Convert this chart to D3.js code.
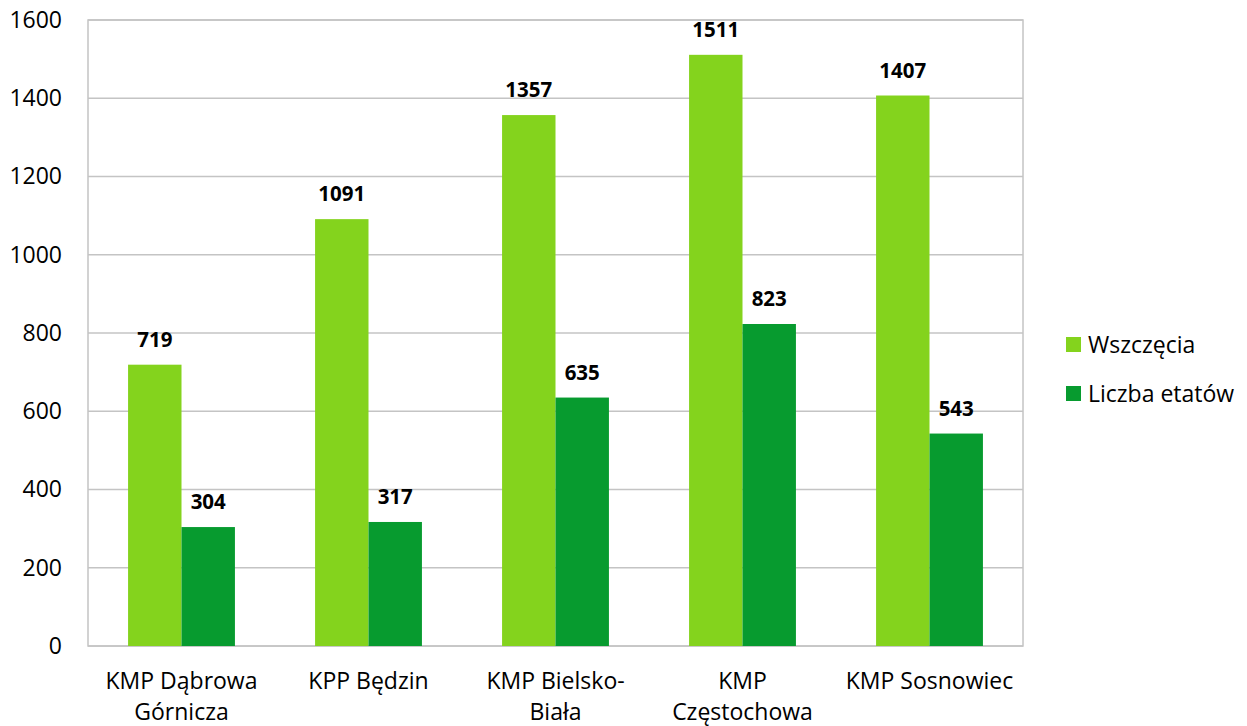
<!DOCTYPE html>
<html lang="pl">
<head>
    <meta charset="UTF-8">
    <title>Wszczęcia i liczba etatów</title>
    <script src="https://d3js.org/d3.v7.min.js"></script>
    <style>
        body { margin: 0; background: #fff; }
        svg { font-family: "Open Sans", Lato, sans-serif; }
        .tick-label { font-size: 23px; fill: #000; }
        .value-label { font-size: 20.5px; font-weight: bold; fill: #000; }
    </style>
</head>
<body>
    <svg id="chart" width="1247" height="726"></svg>

    <script>
        const categories = ["KMP Dąbrowa Górnicza", "KPP Będzin", "KMP Bielsko-Biała", "KMP Częstochowa", "KMP Sosnowiec"];
        const tickLabels = [["KMP Dąbrowa", "Górnicza"], ["KPP Będzin"], ["KMP Bielsko-", "Biała"], ["KMP", "Częstochowa"], ["KMP Sosnowiec"]];
        const seriesNames = ["Wszczęcia", "Liczba etatów"];
        const wszczecia = [719, 1091, 1357, 1511, 1407];
        const etaty = [304, 317, 635, 823, 543];
        const yTicks = [0, 200, 400, 600, 800, 1000, 1200, 1400, 1600];
        const colors = ["#84D31D", "#079B2F"];

        const seriesValues = [wszczecia, etaty];
        const data = categories.map((c, i) => ({
            cat: c,
            values: seriesNames.map((s, j) => ({ series: s, value: seriesValues[j][i] }))
        }));

        const svg = d3.select("#chart");
        const plot = { left: 88, right: 1023, top: 20, bottom: 646 };

        const x0 = d3.scaleBand()
            .domain(categories)
            .range([plot.left, plot.right]);

        const x1 = d3.scaleBand()
            .domain(seriesNames)
            .range([0, x0.bandwidth()])
            .paddingOuter(0.75);

        const y = d3.scaleLinear()
            .domain([0, 1600])
            .range([plot.bottom, plot.top]);

        const color = d3.scaleOrdinal().domain(seriesNames).range(colors);

        // gridlines
        svg.append("g")
            .selectAll("line")
            .data(yTicks)
            .enter().append("line")
            .attr("x1", plot.left)
            .attr("x2", plot.right)
            .attr("y1", d => y(d))
            .attr("y2", d => y(d))
            .attr("stroke", "#C4C4C4")
            .attr("stroke-width", 1.5);

        // plot border
        svg.append("rect")
            .attr("x", plot.left)
            .attr("y", plot.top)
            .attr("width", plot.right - plot.left)
            .attr("height", plot.bottom - plot.top)
            .attr("fill", "none")
            .attr("stroke", "#C4C4C4")
            .attr("stroke-width", 1.5);

        // y axis labels
        const yAxis = d3.axisLeft(y).tickValues(yTicks).tickFormat(d3.format("d")).tickSize(0).tickPadding(26);
        const yg = svg.append("g")
            .attr("transform", `translate(${plot.left},0)`)
            .call(yAxis);
        yg.attr("font-size", null).attr("font-family", null);
        yg.select(".domain").remove();
        yg.selectAll("text").attr("class", "tick-label");

        // bars
        const groups = svg.append("g")
            .selectAll("g")
            .data(data)
            .enter().append("g")
            .attr("transform", d => `translate(${x0(d.cat)},0)`);

        groups.selectAll("rect")
            .data(d => d.values)
            .enter().append("rect")
            .attr("x", d => x1(d.series))
            .attr("y", d => y(d.value))
            .attr("width", x1.bandwidth())
            .attr("height", d => y(0) - y(d.value))
            .attr("fill", d => color(d.series));

        groups.selectAll("text")
            .data(d => d.values)
            .enter().append("text")
            .attr("class", "value-label")
            .attr("x", d => x1(d.series) + x1.bandwidth() / 2)
            .attr("y", d => y(d.value) - 18)
            .attr("text-anchor", "middle")
            .text(d => d.value);

        // x axis labels
        const xg = svg.append("g")
            .selectAll("text")
            .data(categories)
            .enter().append("text")
            .attr("class", "tick-label")
            .attr("text-anchor", "middle")
            .attr("x", d => x0(d) + x0.bandwidth() / 2)
            .attr("y", plot.bottom + 43);

        xg.selectAll("tspan")
            .data((d, i) => tickLabels[i])
            .enter().append("tspan")
            .attr("x", function () { return d3.select(this.parentNode).attr("x"); })
            .attr("dy", (d, i) => i === 0 ? 0 : 31)
            .text(d => d);

        // legend
        const legend = svg.append("g")
            .attr("transform", "translate(1066,337)")
            .selectAll("g")
            .data(seriesNames)
            .enter().append("g")
            .attr("transform", (d, i) => `translate(0,${i * 49})`);

        legend.append("rect")
            .attr("width", 15)
            .attr("height", 15)
            .attr("fill", d => color(d));

        legend.append("text")
            .attr("class", "tick-label")
            .attr("x", 22)
            .attr("y", 7.5)
            .attr("dy", "0.35em")
            .text(d => d);
    </script>
</body>
</html>
